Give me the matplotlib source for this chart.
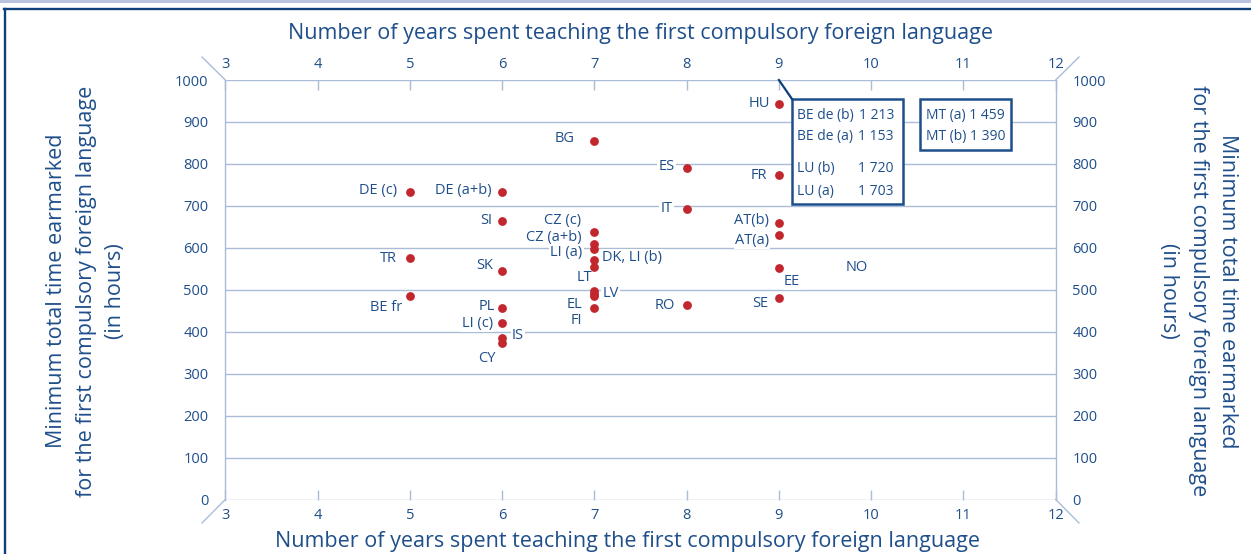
import matplotlib
matplotlib.use("Agg")
import matplotlib.pyplot as plt
from matplotlib.lines import Line2D
from matplotlib.patches import Rectangle

plt.rcParams["font.family"] = ["Open Sans", "DejaVu Sans"]

# ---- data ----------------------------------------------------------------
countries = ["HU", "BG", "ES", "FR", "DE (c)", "DE (a+b)", "IT", "SI",
             "CZ (c)", "CZ (a+b)", "LI (a)", "DK", "LI (b)", "LT", "LV",
             "EL", "FI", "TR", "SK", "BE fr", "PL", "LI (c)", "IS", "CY",
             "RO", "AT(b)", "AT(a)", "EE", "SE"]
years = [9, 7, 8, 9, 5, 6, 8, 6,
         7, 7, 7, 7, 7, 7, 7,
         7, 7, 5, 6, 5, 6, 6, 6, 6,
         8, 9, 9, 9, 9]
hours = [943, 854, 790, 773, 733, 733, 692, 664,
         637, 609, 598, 571, 555, 497, 490,
         484, 456, 575, 545, 485, 457, 420, 384, 372,
         463, 660, 630, 551, 480]

# values above the top of the scale
off_be_lu_names = ["BE de (b)", "BE de (a)", "LU (b)", "LU (a)"]
off_be_lu_hours = [1213, 1153, 1720, 1703]
off_mt_names = ["MT (a)", "MT (b)"]
off_mt_hours = [1459, 1390]

x_ticks = list(range(3, 13))
y_ticks = list(range(0, 1001, 100))

# label placement: offset in pixels from the dot, horizontal alignment
label_style = {
    "HU": (-9, 0, "right"), "BG": (-20, 3, "right"), "ES": (-12, 2, "right"),
    "FR": (-12, 0, "right"), "DE (c)": (-13, 2, "right"),
    "DE (a+b)": (-10, 2, "right"), "IT": (-14, 1, "right"),
    "SI": (-10, 0, "right"), "CZ (c)": (-13, 12, "right"),
    "CZ (a+b)": (-13, 7, "right"), "LI (a)": (-12, -4, "right"),
    "DK": (8, 2, "left"), "LT": (-10, 14, "center"), "LV": (8, 0, "left"),
    "EL": (-12, -8, "right"), "FI": (-18, -12, "center"),
    "TR": (-13, 0, "right"), "SK": (-9, 5, "right"),
    "BE fr": (-8, -11, "right"), "PL": (-7, 1, "right"),
    "LI (c)": (-9, 0, "right"), "IS": (10, 3, "left"),
    "CY": (-15, -15, "center"), "RO": (-12, 0, "right"),
    "AT(b)": (-10, 2, "right"), "AT(a)": (-10, -5, "right"),
    "EE": (5, -13, "left"), "SE": (-11, -5, "right"),
}
label_text = {"DK": "DK, LI (b)", "LI (b)": ""}

TEXT = "#1f4f8b"
GRID = "#a9bdd8"
DOT = "#c1272d"
NAVY = "#0d3f7a"

fig = plt.figure(figsize=(12.51, 5.54), dpi=100)
W, H = 1251, 554
ax = fig.add_axes([225.3 / W, 54.5 / H, (1055.7 - 225.3) / W, (499.5 - 80) / H])
ax.set_xlim(3, 12)
ax.set_ylim(0, 1000)

for s in ["top", "bottom"]:
    ax.spines[s].set_visible(False)
for s in ["left", "right"]:
    ax.spines[s].set_color(GRID)
    ax.spines[s].set_linewidth(1.0)

for v in y_ticks:
    ax.axhline(v, color=GRID, lw=1.0, zorder=1)

ax.set_xticks(x_ticks)
ax.set_xticklabels([str(t) for t in x_ticks])
ax.tick_params(axis="x", which="both", direction="in", length=7, width=1,
               color=GRID, top=True, bottom=True, labeltop=True,
               labelbottom=True, labelsize=10.5, labelcolor=TEXT, pad=6)
ax.set_yticks(y_ticks)
ax.set_yticklabels([str(t) for t in y_ticks])
ax.tick_params(axis="y", length=0, left=True, right=True, labelleft=True,
               labelright=True, labelsize=10.5, labelcolor=TEXT, pad=12)

ax.scatter(years, hours, s=40, color=DOT, zorder=4, linewidths=0)

for c, xv, yv in zip(countries, years, hours):
    txt = label_text.get(c, c)
    if not txt:
        continue
    dx, dy, ha = label_style[c]
    ax.annotate(txt, (xv, yv), xytext=(dx, dy), textcoords="offset pixels",
                ha=ha, va="center", fontsize=10.5, color=TEXT, zorder=3,
                bbox=dict(boxstyle="square,pad=0.08", fc="white", ec="none"))

# NO: label without a point on the scale
ax.annotate("NO", (10, 552), xytext=(-14, 0), textcoords="offset pixels",
            ha="center", va="center", fontsize=10.5, color=TEXT, zorder=3)


def px2data(px, py):
    return 3 + (px - 225.3) / ((1055.7 - 225.3) / 9), (499.5 - py) / ((499.5 - 80) / 1000)


# boxes for values above 1000
bx0, by0 = px2data(792, 204.3)
bx1, by1 = px2data(903.3, 99)
ax.add_patch(Rectangle((bx0, by0), bx1 - bx0, by1 - by0, fill=True, fc="white",
                       ec="#1e4f8c", lw=1.8, zorder=5, clip_on=False))
ax.plot([9, bx0], [1000, by1], color=NAVY, lw=1.6, zorder=5, clip_on=False)
name_x, _ = px2data(797, 0)
val_x, _ = px2data(894, 0)
for i, (n, v) in enumerate(zip(off_be_lu_names, off_be_lu_hours)):
    _, ty = px2data(0, [115, 136.7, 168, 191][i])
    ax.text(name_x, ty, n, ha="left", va="center", fontsize=10, color=TEXT, zorder=6)
    ax.text(val_x, ty, f"{v:,}".replace(",", " "), ha="right", va="center",
            fontsize=10, color=TEXT, zorder=6)

mx0, my0 = px2data(920, 150.3)
mx1, my1 = px2data(1011, 99)
ax.add_patch(Rectangle((mx0, my0), mx1 - mx0, my1 - my0, fill=True, fc="white",
                       ec="#1e4f8c", lw=1.8, zorder=5, clip_on=False))
mt_x, _ = px2data(926, 0)
for i, (n, v) in enumerate(zip(off_mt_names, off_mt_hours)):
    _, ty = px2data(0, [115, 136.7][i])
    ax.text(mt_x, ty, f"{n} " + f"{v:,}".replace(",", " "), ha="left",
            va="center", fontsize=10, color=TEXT, zorder=6)

# diagonal corner strokes
for (cx, cy, ex, ey) in [(225.3, 80, 202, 57), (1055.7, 80, 1079, 57),
                         (225.3, 499.5, 202, 523), (1055.7, 499.5, 1079, 523)]:
    fig.add_artist(Line2D([cx / W, ex / W], [1 - cy / H, 1 - ey / H],
                          color=GRID, lw=1.0))

# axis titles
xtitle = "Number of years spent teaching the first compulsory foreign language"
fig.text(640 / W, 1 - 33 / H, xtitle, ha="center", va="center", fontsize=15.5, color=TEXT)
fig.text(628 / W, 1 - 542 / H, xtitle, ha="center", va="center", fontsize=15.5, color=TEXT)

ylines = ["Minimum total time earmarked",
          "for the first compulsory foreign language",
          "(in hours)"]
for xpx, t in zip([57, 87, 115], ylines):
    fig.text(xpx / W, 1 - 291 / H, t, rotation=90, ha="center", va="center",
             fontsize=15.5, color=TEXT)
for xpx, t in zip([1228, 1198, 1168], ylines):
    fig.text(xpx / W, 1 - 291 / H, t, rotation=270, ha="center", va="center",
             fontsize=15.5, color=TEXT)

# page frame
fig.add_artist(Rectangle((0, 1 - 3.3 / H), 1, 3.3 / H, transform=fig.transFigure,
                         fc="#b9c3de", ec="none"))
fig.add_artist(Line2D([4 / W, 1], [1 - 8.5 / H, 1 - 8.5 / H], color=NAVY, lw=1.7))
fig.add_artist(Line2D([5 / W, 5 / W], [0, 1 - 8.5 / H], color=NAVY, lw=1.7))

fig.savefig("out.png", dpi=100)
